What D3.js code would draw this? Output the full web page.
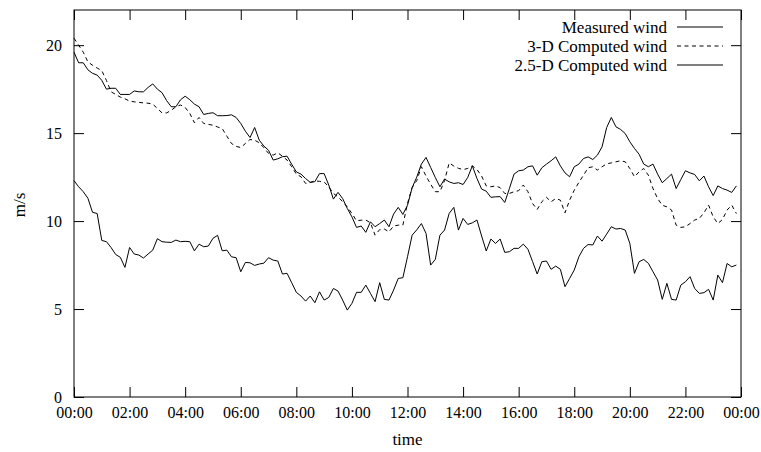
<!DOCTYPE html>
<html><head><meta charset="utf-8">
<script src="https://cdn.jsdelivr.net/npm/d3@7"></script>
<style>
html,body{margin:0;padding:0;background:#fff;}
svg{display:block;}
text{font-family:"Liberation Serif","DejaVu Serif",serif;fill:#000;}
</style></head>
<body><svg id="chart" width="761" height="452"></svg>
<script>
// ---- data (10-minute samples, 00:00 .. 23:50) ----
const sampleMinutes = d3.range(0, 1440, 10);
const xTickLabels = ["00:00","02:00","04:00","06:00","08:00","10:00","12:00","14:00","16:00","18:00","20:00","22:00","00:00"];
const yTicks = [0, 5, 10, 15, 20];
const seriesNames = ["Measured wind", "3-D Computed wind", "2.5-D Computed wind"];

const measuredWind = [
19.6,19.0,19.0,18.6,18.4,18.3,18.0,17.5,17.55,17.55,17.2,17.2,
17.2,17.4,17.35,17.35,17.6,17.8,17.5,17.3,16.85,16.5,16.5,16.9,
17.1,16.9,16.65,16.5,16.06,16.12,16.16,15.99,15.99,16.0,16.04,15.89,
15.55,15.11,14.75,15.32,14.6,14.26,14.03,13.47,13.54,13.66,13.69,13.23,
12.8,12.67,12.42,12.2,12.24,12.7,12.7,12.05,11.25,11.63,11.28,10.72,
10.24,9.64,9.72,9.36,9.96,9.68,9.86,10.06,9.68,10.4,10.78,10.38,
10.9,11.9,12.5,13.24,13.62,13.05,12.48,11.95,12.39,12.23,12.14,12.18,
12.08,12.48,13.14,12.42,11.82,11.7,11.35,11.38,11.39,11.06,11.85,12.67,
12.86,12.9,13.09,13.14,12.61,13.03,13.24,13.43,13.65,13.14,12.74,12.52,
13.09,13.24,13.56,13.65,13.5,13.75,14.22,15.32,15.89,15.36,15.21,14.98,
14.51,14.13,13.8,13.24,13.09,13.24,12.67,12.18,12.42,12.67,11.85,12.36,
12.86,12.74,12.65,12.29,12.56,11.95,11.45,12.0,11.85,11.76,11.63,12.0
];
const computed3D = [
20.4,20.0,19.6,19.05,18.86,18.7,18.55,18.0,17.35,17.2,17.05,16.95,
16.82,16.78,16.75,16.72,16.7,16.65,16.4,16.15,16.15,16.3,16.5,16.6,
16.46,16.12,15.59,15.89,15.55,15.5,15.45,15.35,15.26,14.83,14.41,14.25,
14.18,14.41,14.64,14.6,14.45,14.17,13.85,13.75,13.88,13.69,13.47,13.09,
12.67,12.52,12.14,12.2,12.29,12.26,12.23,11.95,11.57,11.38,11.1,10.81,
10.43,10.02,10.05,10.06,9.9,9.2,9.52,9.55,9.39,9.72,9.77,9.77,
11.0,11.9,12.3,13.09,12.56,12.1,11.67,11.67,12.3,13.31,13.13,13.0,
12.93,12.99,13.14,12.93,12.56,12.0,11.95,12.0,11.9,11.57,11.57,11.67,
11.73,12.05,11.67,11.0,10.66,11.1,11.35,11.1,11.28,11.19,10.47,11.19,
11.76,12.2,12.61,13.03,13.09,12.9,13.09,13.25,13.31,13.37,13.43,13.37,
12.99,12.52,12.8,12.99,12.61,11.85,11.28,10.9,10.81,10.63,9.77,9.64,
9.68,9.86,10.06,10.15,10.47,10.91,10.24,9.86,10.09,10.63,10.91,10.43
];
const computed25D = [
12.3,11.95,11.67,11.3,10.5,10.43,8.9,8.83,8.5,8.1,7.94,7.37,
8.5,8.13,8.07,7.9,8.13,8.35,9.0,8.83,8.8,8.79,8.92,8.83,
8.85,8.83,8.31,8.69,8.54,8.58,9.02,9.19,8.31,8.35,7.97,7.92,
7.12,7.65,7.63,7.48,7.56,7.61,7.92,7.78,7.73,6.99,7.03,6.5,
5.95,5.74,5.45,5.74,5.36,5.98,5.51,5.66,6.17,6.02,5.51,4.94,
5.32,5.95,5.95,6.36,5.89,5.42,6.5,5.55,5.51,6.08,6.74,6.78,
7.97,9.2,9.5,9.86,9.3,7.5,7.82,9.2,9.49,10.44,10.78,9.49,
10.15,9.81,9.9,10.06,9.15,8.3,8.98,8.73,8.98,8.22,8.26,8.45,
8.45,8.69,8.4,7.7,6.99,7.69,7.73,7.26,7.44,7.26,6.27,6.74,
7.22,7.97,8.45,8.67,8.64,9.15,8.86,9.26,9.68,9.55,9.58,9.49,
8.73,7.03,7.69,7.82,7.6,7.12,6.65,5.55,6.46,5.55,5.51,6.36,
6.55,6.84,6.17,5.89,5.93,6.12,5.51,6.93,6.5,7.59,7.4,7.5
];

// ---- chart ----
const svg = d3.select("#chart");
const plotL = 74, plotR = 741, plotT = 10, plotB = 397;
const x = d3.scaleLinear().domain([0, 1440]).range([plotL, plotR]);
const y = d3.scaleLinear().domain([0, 22]).range([plotB, plotT]);
const tickLen = 10;
const fontSize = 17;
const tickFontSize = 16;
const fontFam = '"Liberation Serif","DejaVu Serif",serif';

const series = [
  {name: seriesNames[0], values: measuredWind, dash: null, color: "#000"},
  {name: seriesNames[1], values: computed3D, dash: "4,3.5", color: "#000"},
  {name: seriesNames[2], values: computed25D, dash: null, color: "#000"}
];

const line = d3.line().x((d, i) => x(sampleMinutes[i])).y(d => y(d));
series.forEach(s => {
  svg.append("path").datum(s.values)
    .attr("d", line).attr("fill", "none")
    .attr("stroke", s.color).attr("stroke-width", 1)
    .attr("stroke-dasharray", s.dash);
});

// axes with inward ticks on all four sides
const xTickVals = d3.range(0, 1441, 120);
const gB = svg.append("g").attr("transform", `translate(0,${plotB})`)
  .call(d3.axisBottom(x).tickValues(xTickVals).tickSizeInner(-tickLen).tickSizeOuter(0)
    .tickPadding(10).tickFormat((d, i) => xTickLabels[i]));
const gT = svg.append("g").attr("transform", `translate(0,${plotT})`)
  .call(d3.axisTop(x).tickValues(xTickVals).tickSizeInner(-tickLen).tickSizeOuter(0).tickFormat(""));
const gL = svg.append("g").attr("transform", `translate(${plotL},0)`)
  .call(d3.axisLeft(y).tickValues(yTicks).tickSizeInner(-tickLen).tickSizeOuter(0)
    .tickPadding(12).tickFormat(d3.format("d")));
const gR = svg.append("g").attr("transform", `translate(${plotR},0)`)
  .call(d3.axisRight(y).tickValues(yTicks).tickSizeInner(-tickLen).tickSizeOuter(0).tickFormat(""));
[gB, gT, gL, gR].forEach(g => {
  g.select(".domain").remove();
  g.selectAll("line").attr("stroke", "#000").attr("stroke-width", 1);
  g.selectAll("text").style("font-family", fontFam)
    .style("font-size", tickFontSize + "px").attr("fill", "#000");
});

svg.append("rect").attr("x", plotL).attr("y", plotT)
  .attr("width", plotR - plotL).attr("height", plotB - plotT)
  .attr("fill", "none").attr("stroke", "#000").attr("stroke-width", 1);

// axis titles
svg.append("text").attr("x", (plotL + plotR) / 2).attr("y", 445)
  .attr("text-anchor", "middle").style("font-size", fontSize + "px").text("time");
svg.append("text").attr("transform", "translate(25,205) rotate(-90)")
  .attr("text-anchor", "middle").style("font-size", fontSize + "px").text("m/s");

// legend
const legRowY = d3.scaleLinear().domain([0, 1]).range([27, 46]);
series.forEach((s, i) => {
  const yy = legRowY(i);
  svg.append("text").attr("x", 667).attr("y", yy).attr("dy", "0.35em")
    .attr("text-anchor", "end").style("font-size", fontSize + "px").text(s.name);
  svg.append("line").attr("x1", 677).attr("x2", 723).attr("y1", yy).attr("y2", yy)
    .attr("stroke", s.color).attr("stroke-width", 1).attr("stroke-dasharray", s.dash);
});
</script></body></html>
